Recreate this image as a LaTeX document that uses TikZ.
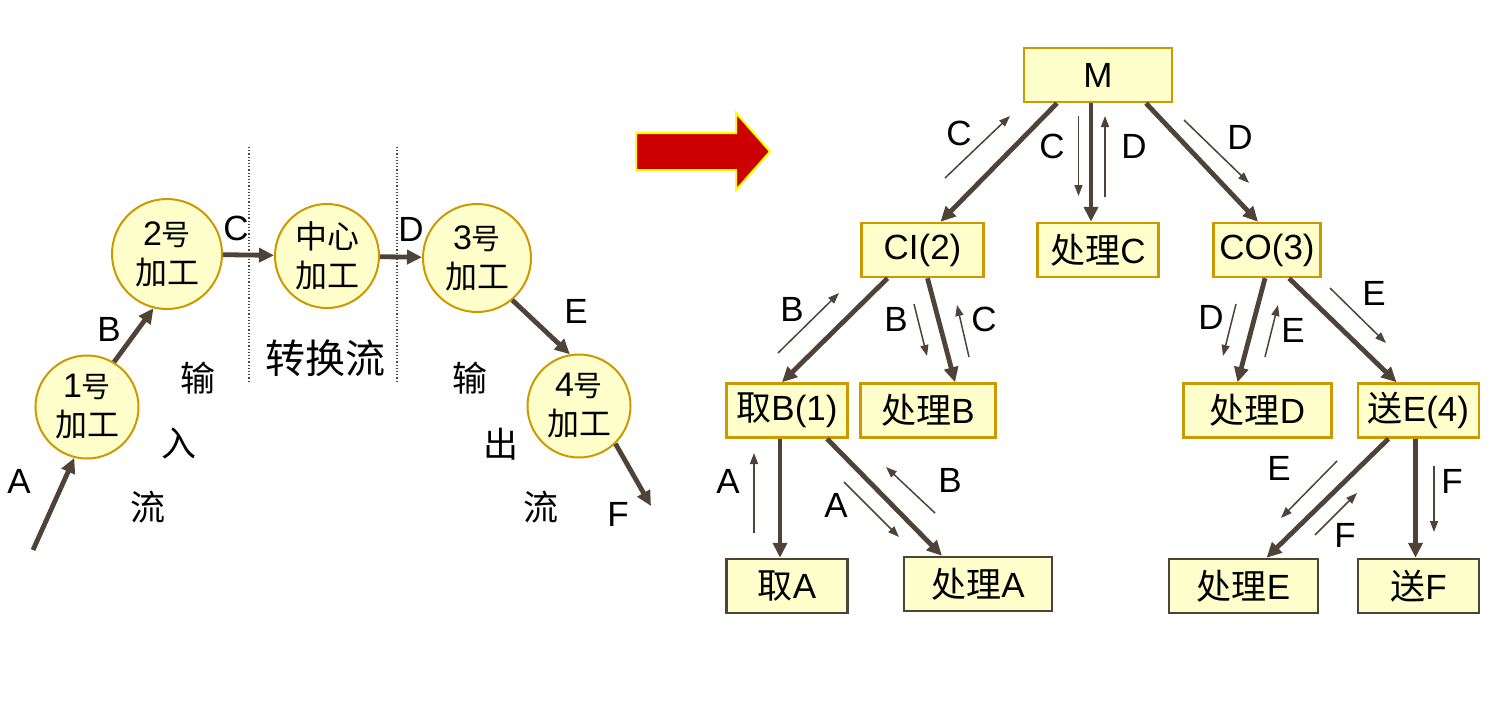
\documentclass[tikz,border=0pt]{standalone}
\usepackage{fontspec}
\setmainfont{Liberation Sans}
\newfontfamily\latin{Liberation Sans}
\newfontfamily\cjk{Noto Sans CJK SC}
\usetikzlibrary{arrows.meta}
\definecolor{cream}{HTML}{FFFFCC}
\definecolor{gold}{HTML}{CC9900}
\definecolor{flowc}{HTML}{4F4338}
\definecolor{redarrow}{HTML}{CC0000}
\definecolor{rim}{HTML}{FFFF00}
\tikzset{
  proc/.style={circle, draw=gold, fill=cream, line width=2, inner sep=0, align=center,
    font=\cjk\fontsize{32}{39}\selectfont},
  modbox/.style={rectangle, draw=gold, fill=cream, line width=2.5, minimum height=54,
    inner sep=0, font=\fontsize{35}{40}\selectfont},
  leafbox/.style={modbox, draw=flowc},
  flowarrow/.style={draw=flowc, line width=4.8, -{Triangle[length=15,width=14]}},
  msg/.style={draw=flowc, line width=1.5, -{Triangle[length=11,width=8]}},
  lbl/.style={inner sep=0, font=\fontsize{35}{40}\selectfont},
  zh/.style={inner sep=0, font=\cjk\fontsize{35}{40}\selectfont},
}
\begin{document}
\begin{tikzpicture}[x=1pt,y=-1pt]
  \path[use as bounding box, fill=white] (0,0) rectangle (1502,709);
  % left: the processing chain
  \node[proc, minimum size=103] (p1) at (87,407)
    {{\latin\fontsize{34}{39}\selectfont 1}{\fontsize{29}{39}\selectfont 号}\\加工};
  \node[proc, minimum size=110] (p2) at (167,254)
    {{\latin\fontsize{34}{39}\selectfont 2}{\fontsize{29}{39}\selectfont 号}\\加工};
  \node[proc, minimum size=104] (pc) at (327,256) {中心\\加工};
  \node[proc, minimum size=108] (p3) at (477,258)
    {{\latin\fontsize{34}{39}\selectfont 3}{\fontsize{29}{39}\selectfont 号}\\加工};
  \node[proc, minimum size=103] (p4) at (579,406)
    {{\latin\fontsize{34}{39}\selectfont 4}{\fontsize{29}{39}\selectfont 号}\\加工};
  \coordinate (ain) at (33,550);
  \coordinate (fout) at (651,506);
  \draw[flowarrow] (ain) -- (p1.256);
  \draw[flowarrow] (p1.59) -- (p2.256);
  \draw[flowarrow] (p2) -- (pc);
  \draw[flowarrow] (pc) -- (p3);
  \draw[flowarrow] (p3.-50) -- (p4.100);
  \draw[flowarrow] (p4.-46) -- (fout);
  \node[lbl] (la) at (19,481) {A};
  \node[lbl] (lb) at (109,329) {B};
  \node[lbl] (lc) at (236,228) {C};
  \node[lbl] (ld) at (411,229) {D};
  \node[lbl] (le) at (576,311) {E};
  \node[lbl] (lf) at (618,514) {F};
  \draw[flowc, dotted, line width=1.2] (249,147) -- (249,383);
  \draw[flowc, dotted, line width=1.2] (397,147) -- (397,383);
  \node[zh, font=\cjk\fontsize{40}{46}\selectfont] (trans) at (325,358) {转换流};
  \node[zh] (in1) at (198,378) {输};
  \node[zh] (in2) at (179,443) {入};
  \node[zh] (in3) at (148,507) {流};
  \node[zh] (out1) at (470,378) {输};
  \node[zh] (out2) at (501,444) {出};
  \node[zh] (out3) at (541,507) {流};
  % the big arrow
  \draw[fill=redarrow, draw=rim, line width=2]
    (636,133) -- (736,133) -- (736,113) -- (770,151.5) -- (736,190) -- (736,170)
    -- (636,170) -- cycle;
  % right: the module tree
  \node[modbox, minimum width=148] (m) at (1098,75) {M};
  \node[modbox, minimum width=122] (ci) at (922.5,250) {CI(2)};
  \node[modbox, minimum width=121] (hc) at (1098,250) {{\cjk 处理}C};
  \node[modbox, minimum width=107] (co) at (1267,250) {CO(3)};
  \node[modbox, minimum width=121] (qb) at (787,410.5) {{\cjk 取}B(1)};
  \node[modbox, minimum width=135] (hb) at (928,410.5) {{\cjk 处理}B};
  \node[modbox, minimum width=148] (hd) at (1257.5,410.5) {{\cjk 处理}D};
  \node[modbox, minimum width=121] (se) at (1418.5,410.5) {{\cjk 送}E(4)};
  \node[leafbox, minimum width=121] (qa) at (787,586) {{\cjk 取}A};
  \node[leafbox, minimum width=148] (ha) at (978,584) {{\cjk 处理}A};
  \node[leafbox, minimum width=149] (he) at (1243.5,586) {{\cjk 处理}E};
  \node[leafbox, minimum width=121] (sf) at (1418.5,586) {{\cjk 送}F};
  \draw[flowarrow] ([xshift=-41]m.south) -- ([xshift=18]ci.north);
  \draw[flowarrow] ([xshift=-7]m.south) -- ([xshift=-7]hc.north);
  \draw[flowarrow] ([xshift=48]m.south) -- ([xshift=-9]co.north);
  \draw[flowarrow] ([xshift=-35]ci.south) -- ([xshift=-5]qb.north);
  \draw[flowarrow] ([xshift=5]ci.south) -- ([xshift=27]hb.north);
  \draw[flowarrow] ([xshift=-2]co.south) -- ([xshift=-20]hd.north);
  \draw[flowarrow] ([xshift=22]co.south) -- ([xshift=-22]se.north);
  \draw[flowarrow] ([xshift=-7]qb.south) -- ([xshift=-7]qa.north);
  \draw[flowarrow] ([xshift=40]qb.south) -- ([xshift=-36]ha.north);
  \draw[flowarrow] ([xshift=-30]se.south) -- ([xshift=23]he.north);
  \draw[flowarrow] ([xshift=-3]se.south) -- ([xshift=-3]sf.north);
  % data passed along the calls
  \foreach \n/\xa/\ya/\xb/\yb/\t/\lx/\ly in {
      c1/945/178/1010/116/C/959/133, c2/1078.5/116/1078.5/196/C/1052/146,
      d1/1105/197/1105/116/D/1134/146, d2/1184/120/1249/183/D/1240/137,
      b1/778/353/839/293/B/792/309, b2/914/304/927/356/B/896/319,
      c3/969/357/957/305/C/984/319, d3/1236/304/1223/356/D/1211/317,
      e1/1265/357/1278/305/E/1293/330, e2/1330/288/1386/343/E/1374/293,
      a1/754/533/754/453/A/728/481, a2/844/482/899/537/A/836/505,
      b3/935/513/886/467/B/950/480, e3/1337/461/1281/518/E/1279/468,
      f1/1315/535/1357/493/F/1345/535, f2/1434/466/1434/532/F/1452/481}
  {
    \coordinate (\n-s) at (\xa,\ya);
    \coordinate (\n-e) at (\xb,\yb);
    \draw[msg] (\n-s) -- (\n-e);
    \node[lbl] (\n-l) at (\lx,\ly) {\t};
  }
\end{tikzpicture}
\end{document}
